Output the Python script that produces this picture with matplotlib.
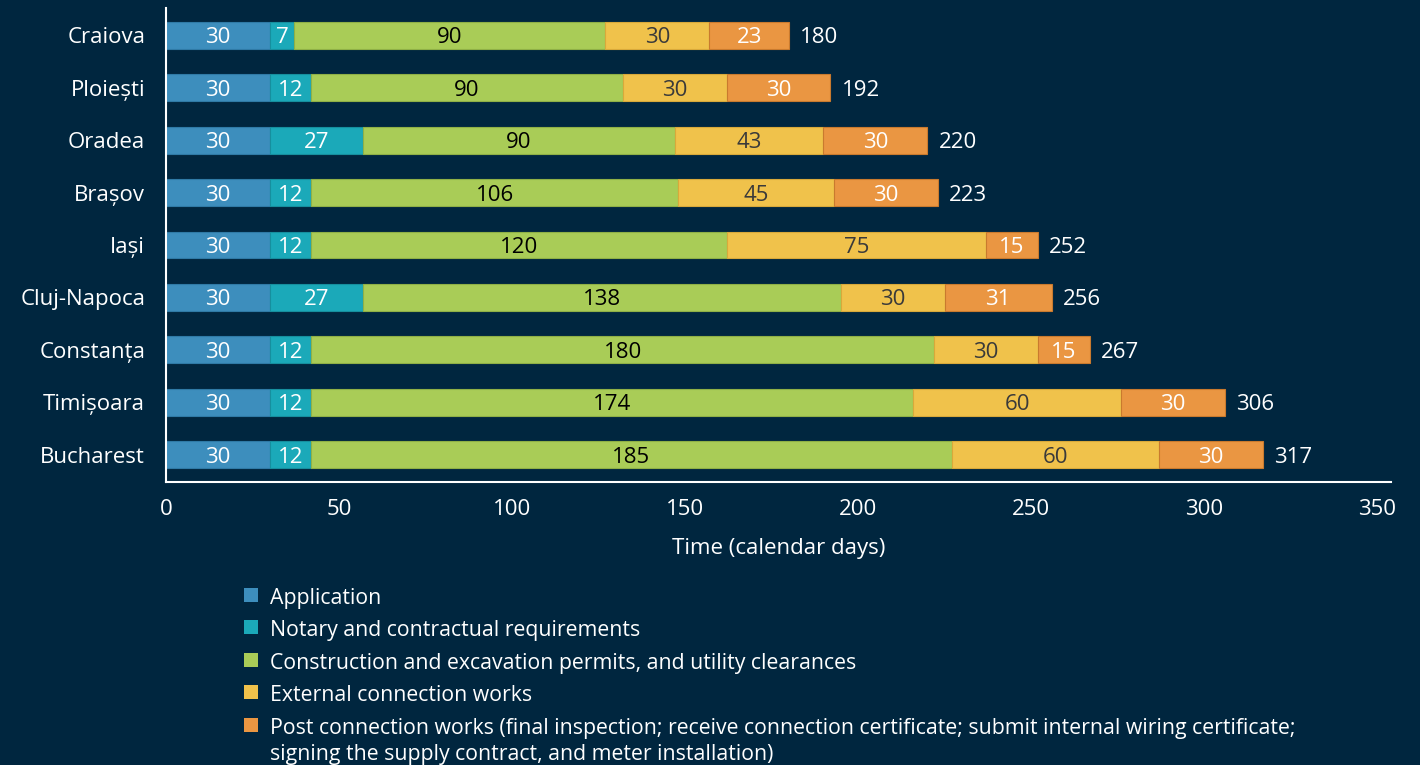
import matplotlib
matplotlib.use("Agg")
import matplotlib.pyplot as plt
from matplotlib.patches import Rectangle

plt.rcParams['font.family'] = ['Open Sans', 'DejaVu Sans']

cities = ["Craiova", "Ploiești", "Oradea", "Brașov", "Iași",
          "Cluj-Napoca", "Constanța", "Timișoara", "Bucharest"]
application = [30, 30, 30, 30, 30, 30, 30, 30, 30]
notary = [7, 12, 27, 12, 12, 27, 12, 12, 12]
construction = [90, 90, 90, 106, 120, 138, 180, 174, 185]
external = [30, 30, 43, 45, 75, 30, 30, 60, 60]
post = [23, 30, 30, 30, 15, 31, 15, 30, 30]
totals = [180, 192, 220, 223, 252, 256, 267, 306, 317]

series_labels = [
    "Application",
    "Notary and contractual requirements",
    "Construction and excavation permits, and utility clearances",
    "External connection works",
    "Post connection works (final inspection; receive connection certificate; submit internal wiring certificate;\nsigning the supply contract, and meter installation)",
]
xticks = [0, 50, 100, 150, 200, 250, 300, 350]

BG = "#00263f"
colors = ["#3d8ebd", "#1ba9b9", "#a9cc57", "#f0c24b", "#ea9642"]
edges = ["#2f7aa6", "#168f9e", "#8fb046", "#d9a93a", "#c97a2e"]
text_colors = ["white", "white", "black", "#3a3a3a", "white"]

FS = 16
fig = plt.figure(figsize=(14.2, 7.65), dpi=100, facecolor=BG)
ax = fig.add_axes([166/1420, 1-482/765, (1391-166)/1420, (482-8)/765])
ax.set_facecolor(BG)

series = [application, notary, construction, external, post]
ypos = list(range(len(cities)))
left = [0]*len(cities)
for vals, c, ec, tc in zip(series, colors, edges, text_colors):
    bars = ax.barh(ypos, vals, left=left, height=0.51, color=c,
                   edgecolor=ec, linewidth=0.8)
    anns = ax.bar_label(bars, labels=[str(v) for v in vals], label_type='center',
                        color=tc, fontsize=FS)
    for a in anns:
        a.set_va('center_baseline')
    left = [l + v for l, v in zip(left, vals)]

for y, t in zip(ypos, totals):
    ax.annotate(str(t), xy=(t, y), xytext=(8, 0), textcoords='offset points',
                ha='left', va='center_baseline', color='white', fontsize=FS)

ax.set_xlim(0, 354)
ax.set_ylim(len(cities) - 0.48, -0.52)
ax.set_yticks(ypos)
ax.set_yticklabels(cities, va='center_baseline')
ax.set_xticks(xticks)
ax.set_xticklabels([str(x) for x in xticks])
ax.tick_params(axis='both', length=0, colors='white', labelsize=FS)
ax.tick_params(axis='x', pad=12)
ax.tick_params(axis='y', pad=15)
for s in ['top', 'right']:
    ax.spines[s].set_visible(False)
for s in ['left', 'bottom']:
    ax.spines[s].set_color('white')
    ax.spines[s].set_linewidth(1.5)
ax.set_xlabel("Time (calendar days)", color='white', fontsize=FS, labelpad=13)

# legend
row_base = [604, 636, 669, 701, 734]
for lab, c, yb in zip(series_labels, colors, row_base):
    fig.patches.append(Rectangle((244/1420, 1-(yb-2)/765), 14/1420, 14/765,
                                 transform=fig.transFigure, facecolor=c,
                                 edgecolor='none'))
    for i, line in enumerate(lab.split('\n')):
        fig.text(270/1420, 1-(yb + 26*i)/765, line, color='white', fontsize=15.3,
                 ha='left', va='baseline')

fig.savefig("out.png", dpi=100, facecolor=BG)
